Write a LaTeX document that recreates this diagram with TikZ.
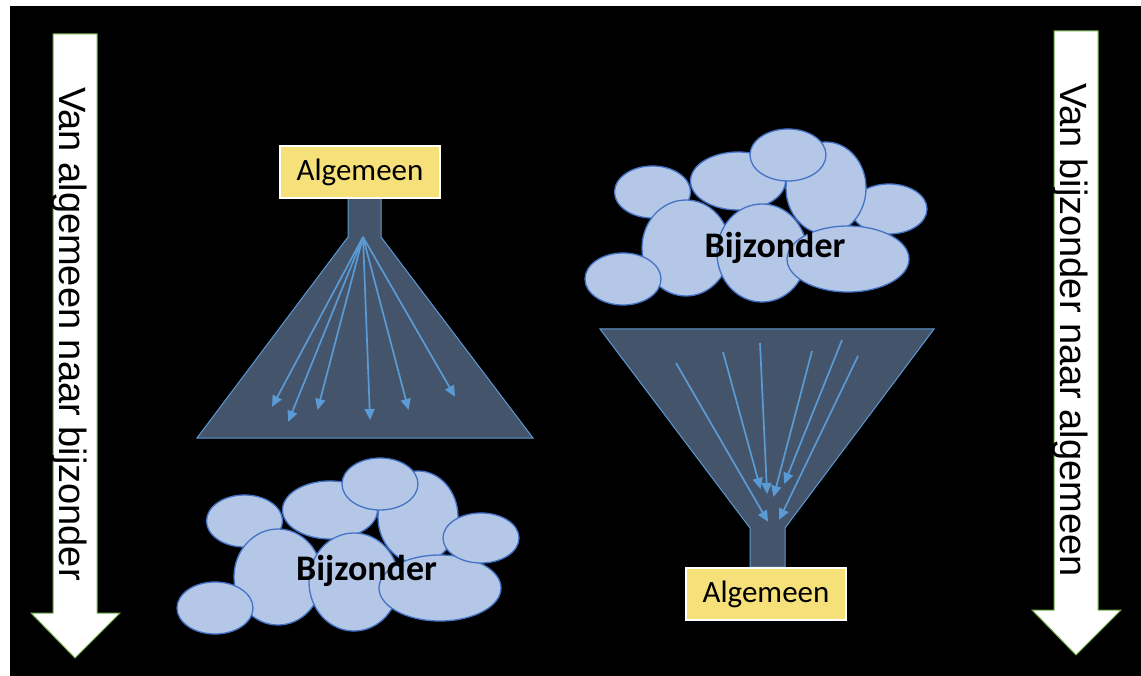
\documentclass[tikz,border=0pt]{standalone}
\usepackage{fontspec}
\setmainfont{Carlito}
\newfontfamily\arialf{Liberation Sans}
\usetikzlibrary{arrows.meta}
\definecolor{funfill}{HTML}{44546A}
\definecolor{funline}{HTML}{5B9BD5}
\definecolor{cloudfill}{HTML}{B4C7E7}
\definecolor{cloudline}{HTML}{4472C4}
\definecolor{boxyellow}{HTML}{F5E07A}
\definecolor{arrgreen}{HTML}{70AD47}
\tikzset{
  funnelshape/.style={fill=funfill, draw=funline, line width=1pt, line join=miter},
  flowarrow/.style={draw=funline, line width=1.7pt, -{Triangle[length=11pt,width=10pt]}, shorten >=-2pt},
  lobe/.style={fill=cloudfill, draw=cloudline, line width=1.3pt},
  bigarrow/.style={fill=white, draw=arrgreen, line width=1pt},
  vtext/.style={font=\arialf\fontsize{38}{45}\selectfont, rotate=-90, anchor=base, inner sep=0pt},
  ybox/.style={fill=boxyellow, draw=white, line width=2pt, minimum width=160pt, minimum height=52pt, inner sep=0pt, font=\fontsize{31}{36}\selectfont, text height=20pt, text depth=4pt},
  cloudtext/.style={font=\bfseries\fontsize{36}{42}\selectfont, anchor=base, inner sep=0pt}
}
\begin{document}
\begin{tikzpicture}[x=1pt,y=-1pt]
\useasboundingbox (0,0) rectangle (1141,676);
\fill[white] (0,0) rectangle (1141,676);
\fill[black] (10,6) rectangle (1141,676);

% big side arrows
\draw[bigarrow] (53,34) -- (97,34) -- (97,613) -- (120,613) -- (75,658) -- (31,613) -- (53,613) -- cycle;
\node[vtext] (lefttext) at (59,334) {Van algemeen naar bijzonder};
\draw[bigarrow] (1054,31) -- (1098,31) -- (1098,610) -- (1121,610) -- (1076,655) -- (1032,610) -- (1054,610) -- cycle;
\node[vtext] (righttext) at (1060,330) {Van bijzonder naar algemeen};

% left funnel (general -> specific)
\draw[funnelshape] (348,198) -- (381,198) -- (381,237) -- (533,438) -- (197,438) -- (348,237) -- cycle;
\node[ybox] (alg1) at (360,172.5) {Algemeen};
\coordinate (o1) at (363,237);
\coordinate (l1) at (273,405);
\coordinate (l2) at (289,420);
\coordinate (l3) at (318,408);
\coordinate (l4) at (370,418);
\coordinate (l5) at (408,408);
\coordinate (l6) at (454,395);
\foreach \e in {l1,l2,l3,l4,l5,l6} \draw[flowarrow] (o1) -- (\e);

% bottom-left cloud
\begin{scope}
\draw[lobe] (244.5,521) ellipse [x radius=38pt, y radius=26pt];
\draw[lobe] (330,510) ellipse [x radius=47.5pt, y radius=29pt];
\draw[lobe] (418,517) ellipse [x radius=40pt, y radius=46pt];
\draw[lobe] (278,577) ellipse [x radius=44pt, y radius=48pt];
\draw[lobe] (354,582) ellipse [x radius=45pt, y radius=49pt];
\draw[lobe] (440,588) ellipse [x radius=61pt, y radius=33pt];
\draw[lobe] (481,538) ellipse [x radius=38pt, y radius=25pt];
\draw[lobe] (380,484) ellipse [x radius=38pt, y radius=26pt];
\draw[lobe] (215,608) ellipse [x radius=38pt, y radius=26pt];
\end{scope}
\node[cloudtext] (bij1) at (366.5,580) {Bijzonder};

% top-right cloud
\begin{scope}[shift={(408,-329)}]
\draw[lobe] (244.5,521) ellipse [x radius=38pt, y radius=26pt];
\draw[lobe] (330,510) ellipse [x radius=47.5pt, y radius=29pt];
\draw[lobe] (481,538) ellipse [x radius=38pt, y radius=25pt];
\draw[lobe] (418,517) ellipse [x radius=40pt, y radius=46pt];
\draw[lobe] (278,577) ellipse [x radius=44pt, y radius=48pt];
\draw[lobe] (354,582) ellipse [x radius=45pt, y radius=49pt];
\draw[lobe] (440,588) ellipse [x radius=61pt, y radius=33pt];
\draw[lobe] (380,484) ellipse [x radius=38pt, y radius=26pt];
\draw[lobe] (215,608) ellipse [x radius=38pt, y radius=26pt];
\end{scope}
\node[cloudtext] (bij2) at (775,258) {Bijzonder};

% right funnel (specific -> general)
\draw[funnelshape] (600,329) -- (934,329) -- (785,528) -- (785,567) -- (750,567) -- (750,528) -- cycle;
\node[ybox] (alg2) at (766,594) {Algemeen};
\coordinate (s1) at (676,363);  \coordinate (t1) at (767,520);
\coordinate (s2) at (723,352);  \coordinate (t2) at (760,487);
\coordinate (s3) at (760,343);  \coordinate (t3) at (767,492);
\coordinate (s4) at (812,351);  \coordinate (t4) at (774,495);
\coordinate (s5) at (842,340);  \coordinate (t5) at (785,482);
\coordinate (s6) at (858,356);  \coordinate (t6) at (780,518);
\foreach \i in {1,...,6} \draw[flowarrow] (s\i) -- (t\i);
\end{tikzpicture}
\end{document}
